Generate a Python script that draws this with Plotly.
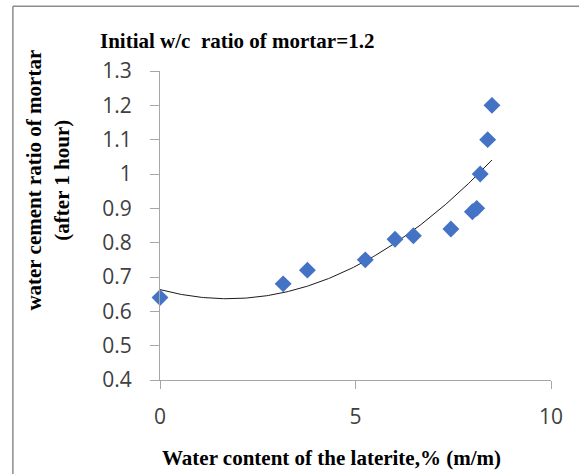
import numpy as np
import plotly.graph_objects as go

# Data
water_content = [0.0, 3.15, 3.77, 5.25, 6.01, 6.48, 7.44, 7.99, 8.10, 8.19, 8.38, 8.49]
wc_ratio = [0.64, 0.68, 0.72, 0.75, 0.81, 0.82, 0.84, 0.89, 0.90, 1.00, 1.10, 1.20]
x_ticks = [0, 5, 10]
y_ticks = [0.4, 0.5, 0.6, 0.7, 0.8, 0.9, 1.0, 1.1, 1.2, 1.3]
y_tick_text = ["0.4", "0.5", "0.6", "0.7", "0.8", "0.9", "1", "1.1", "1.2", "1.3"]

# Polynomial (order 2) trendline fitted to the data
coef = np.polyfit(water_content, wc_ratio, 2)
xt = np.linspace(min(water_content), max(water_content), 200)
yt = np.polyval(coef, xt)

W, H = 579, 474
L, R, T, B = 160, 28.3, 70.7, 94
pw = W - L - R
ph = H - T - B

def px(x):
    return (x - L) / pw

def py(y):
    return (H - B - y) / ph

fig = go.Figure()
fig.add_trace(go.Scatter(x=xt, y=yt, mode="lines",
                         line=dict(color="#1a1a1a", width=1), hoverinfo="skip",
                         showlegend=False))
fig.add_trace(go.Scatter(x=water_content, y=wc_ratio, mode="markers",
                         marker=dict(symbol="diamond", size=13, color="#4472C4",
                                     line=dict(width=0)),
                         cliponaxis=False, showlegend=False))

tick_font = dict(family="Open Sans", size=21, color="#404040")
serif = "Liberation Serif"

fig.update_layout(
    width=W, height=H,
    margin=dict(l=L, r=R, t=T, b=B, pad=0),
    paper_bgcolor="white", plot_bgcolor="white",
    xaxis=dict(range=[0, 10], tickvals=x_ticks, ticks="outside", ticklen=8,
               tickcolor="#a6a6a6", showline=True, linecolor="#a6a6a6",
               linewidth=1, showgrid=False, zeroline=False, tickfont=tick_font,
               ticklabelstandoff=10),
    yaxis=dict(range=[0.4, 1.3], tickvals=y_ticks, ticktext=y_tick_text,
               ticks="outside", ticklen=9, tickcolor="#a6a6a6", showline=True,
               linecolor="#a6a6a6", linewidth=1, showgrid=False, zeroline=False,
               tickfont=tick_font, ticklabelstandoff=14),
    annotations=[
        dict(text="<b>Initial w/c  ratio of mortar=1.2</b>", xref="paper", yref="paper",
             x=px(236.5), y=py(41), xanchor="center", yanchor="middle",
             showarrow=False, font=dict(family=serif, size=21, color="black")),
        dict(text="<b>Water content of the laterite,% (m/m)</b>", xref="paper",
             yref="paper", x=px(331), y=py(458), xanchor="center", yanchor="middle",
             showarrow=False, font=dict(family=serif, size=21, color="black")),
        dict(text="<b>water cement ratio of mortar<br>(after 1 hour)</b>", xref="paper",
             yref="paper", x=px(47.5), y=py(180), xanchor="center", yanchor="middle",
             textangle=-90, showarrow=False,
             font=dict(family=serif, size=21, color="black")),
    ],
    shapes=[
        dict(type="line", xref="paper", yref="paper", x0=px(13), x1=px(13),
             y0=py(6), y1=py(490), line=dict(color="#8c8c8c", width=1.5)),
        dict(type="line", xref="paper", yref="paper", x0=px(13), x1=px(600),
             y0=py(6), y1=py(6), line=dict(color="#8c8c8c", width=1.5)),
    ],
)

fig.write_html("out.html", config={"displayModeBar": False},
               post_script="document.body.style.margin='0';document.body.style.padding='0';")
